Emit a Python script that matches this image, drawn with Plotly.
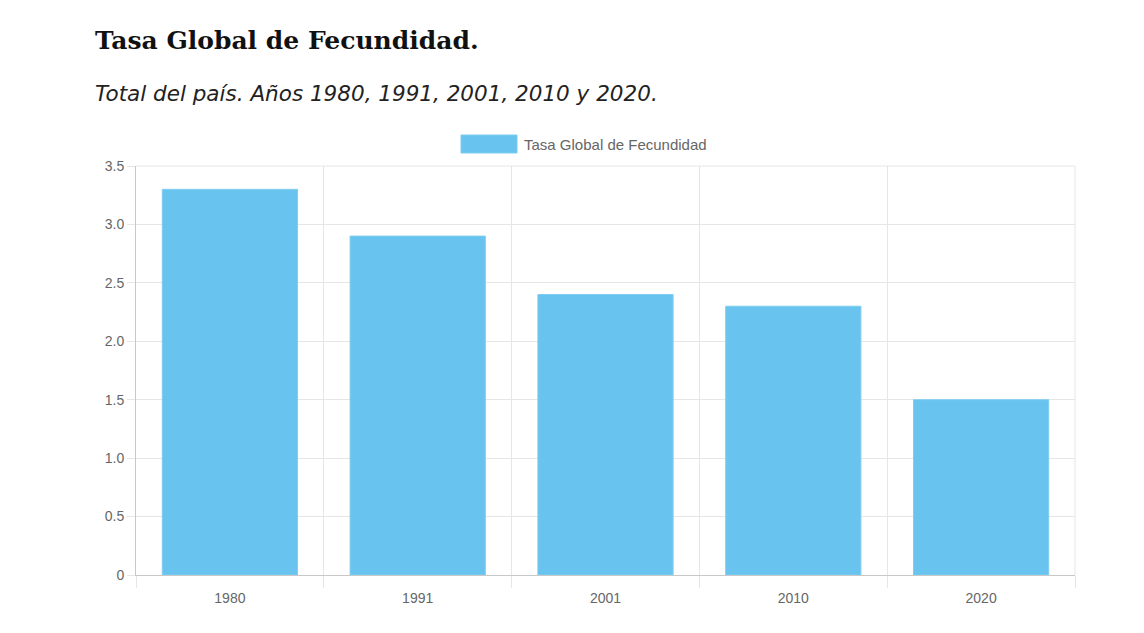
import plotly.graph_objects as go

# data
years = ["1980", "1991", "2001", "2010", "2020"]
tgf = [3.3, 2.9, 2.4, 2.3, 1.5]
y_ticks = [0, 0.5, 1.0, 1.5, 2.0, 2.5, 3.0, 3.5]
y_tick_text = ["0", "0.5", "1.0", "1.5", "2.0", "2.5", "3.0", "3.5"]
series_name = "Tasa Global de Fecundidad"

# page body adds an 8px offset, so the figure is a bit smaller
OFF = 8
W, H = 1144 - OFF, 633 - OFF
L, R, T, B = 136 - OFF, 69, 166 - OFF, 58
pw, ph = W - L - R, H - T - B


def px(x):
    return (x - OFF - L) / pw


def py(y):
    return (H - B - (y - OFF)) / ph


bar_color = "#68C3EE"
grid = "#e6e6e6"
tick_col = "#666666"

fig = go.Figure(go.Bar(x=years, y=tgf, marker=dict(color=bar_color, line=dict(color="#7fcdf1", width=1)),
                       name=series_name, showlegend=False))

fig.update_layout(
    width=W, height=H,
    margin=dict(l=L, r=R, t=T, b=B),
    plot_bgcolor="white", paper_bgcolor="white",
    bargap=0.28,
    font=dict(family="Liberation Sans, Arial", size=13, color=tick_col),
    xaxis=dict(tickson="boundaries", showgrid=True, gridcolor=grid, ticks="outside", ticklen=12,
               tickcolor=grid, showline=True, linecolor="#c8c8c8", linewidth=1, ticklabelstandoff=10,
               tickfont=dict(size=14, color=tick_col), mirror=False),
    yaxis=dict(range=[0, 3.5], tickvals=y_ticks, ticktext=y_tick_text, showgrid=True, gridcolor=grid,
               ticks="outside", ticklen=8, tickcolor=grid, showline=True, linecolor="#c8c8c8",
               zeroline=False, tickfont=dict(size=14, color=tick_col)),
    shapes=[
        dict(type="rect", xref="paper", yref="paper", x0=px(461), x1=px(517), y0=py(153), y1=py(135),
             fillcolor=bar_color, line=dict(color="#7fcdf1", width=1)),
        dict(type="line", xref="paper", yref="paper", x0=1, x1=1, y0=0, y1=1, line=dict(color=grid, width=1)),
        dict(type="line", xref="paper", yref="paper", x0=0, x1=1, y0=1, y1=1, line=dict(color=grid, width=1)),
    ],
    annotations=[
        dict(text="<b>Tasa Global de Fecundidad.</b>", xref="paper", yref="paper", x=px(93), y=py(40),
             xanchor="left", yanchor="middle", showarrow=False,
             font=dict(family="DejaVu Serif", size=25, color="#111111")),
        dict(text="<i>Total del país. Años 1980, 1991, 2001, 2010 y 2020.</i>", xref="paper", yref="paper",
             x=px(93), y=py(93), xanchor="left", yanchor="middle", showarrow=False,
             font=dict(family="DejaVu Sans", size=21.5, color="#222222")),
        dict(text=series_name, xref="paper", yref="paper", x=px(522), y=py(144),
             xanchor="left", yanchor="middle", showarrow=False,
             font=dict(family="Liberation Sans, Arial", size=15, color=tick_col)),
    ],
)

fig.write_html("out.html")
